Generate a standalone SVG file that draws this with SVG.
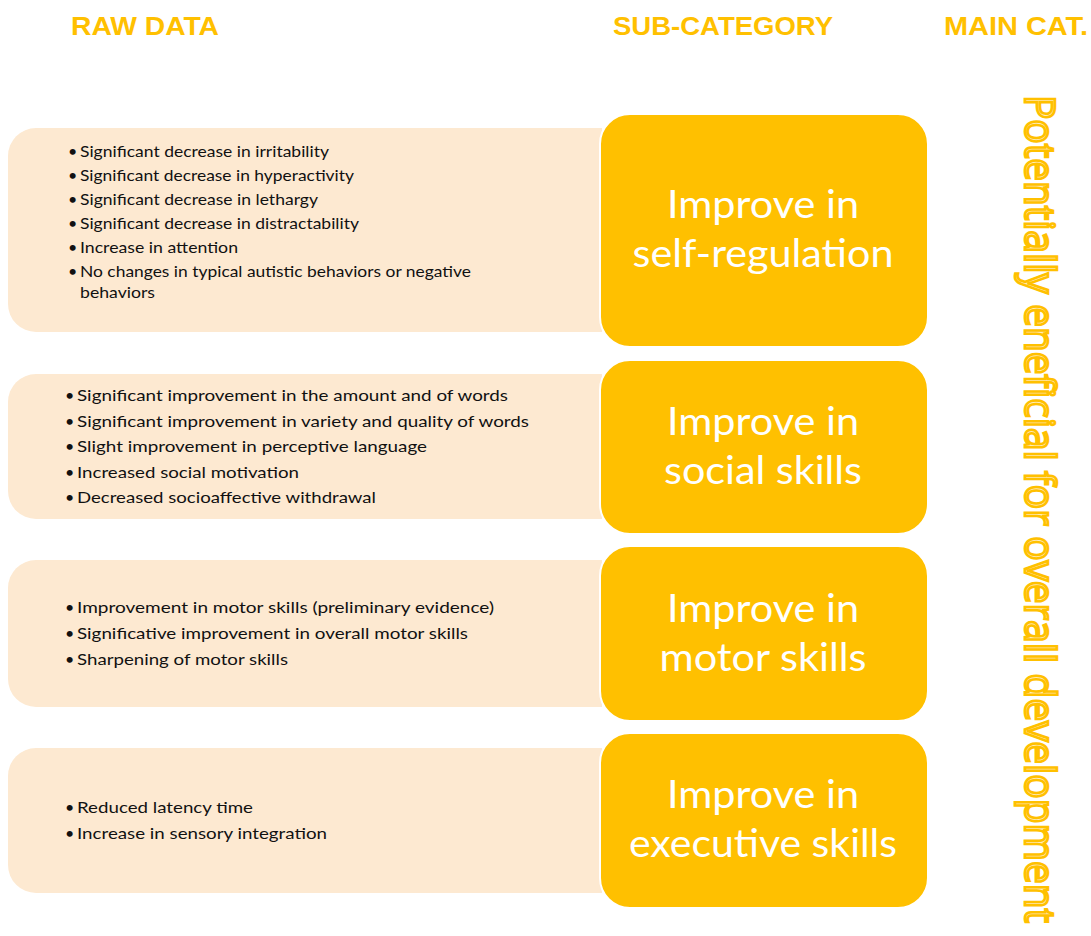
<svg xmlns="http://www.w3.org/2000/svg" width="1091" height="936" viewBox="0 0 1091 936">
<style>
.hdr{font-family:"Liberation Sans",Arial,sans-serif;font-weight:bold;font-size:26px;fill:#FFC000}
.raw{fill:#FDE9D1}
.sub{fill:#FFC000;stroke:#FFFFFF;stroke-width:2}
.bt{font-family:Lato,"Liberation Sans",sans-serif;font-size:16px;fill:#111111}
.st{font-family:Lato,"Open Sans",sans-serif;font-size:39px;fill:#FFFFFF;text-anchor:middle}
.main{font-family:"Open Sans","Noto Sans",sans-serif;font-size:42px;fill:#FFEDB8;stroke:#FFC000;stroke-width:2.6}
</style>
<rect width="1091" height="936" fill="#FFFFFF"/>
<g id="headers">
<text class="hdr" x="71" y="35" textLength="148" lengthAdjust="spacingAndGlyphs">RAW DATA</text>
<text class="hdr" x="613" y="35" textLength="220" lengthAdjust="spacingAndGlyphs">SUB-CATEGORY</text>
<text class="hdr" x="944" y="35" textLength="144" lengthAdjust="spacingAndGlyphs">MAIN CAT.</text>
</g>
<g id="connectors"></g>
<g id="raw1">
<path class="raw" d="M602,128 V332 H36 A28,28 0 0 1 8,304 V156 A28,28 0 0 1 36,128 Z"/>
<text class="bt" x="68" y="157">•</text><text class="bt" x="80" y="157" textLength="249" lengthAdjust="spacingAndGlyphs">Significant decrease in irritability</text>
<text class="bt" x="68" y="181">•</text><text class="bt" x="80" y="181" textLength="274" lengthAdjust="spacingAndGlyphs">Significant decrease in hyperactivity</text>
<text class="bt" x="68" y="205">•</text><text class="bt" x="80" y="205" textLength="238" lengthAdjust="spacingAndGlyphs">Significant decrease in lethargy</text>
<text class="bt" x="68" y="229">•</text><text class="bt" x="80" y="229" textLength="279" lengthAdjust="spacingAndGlyphs">Significant decrease in distractability</text>
<text class="bt" x="68" y="253">•</text><text class="bt" x="80" y="253" textLength="158" lengthAdjust="spacingAndGlyphs">Increase in attention</text>
<text class="bt" x="68" y="277">•</text><text class="bt" x="80" y="277" textLength="391" lengthAdjust="spacingAndGlyphs">No changes in typical autistic behaviors or negative</text>
<text class="bt" x="80" y="298" textLength="75" lengthAdjust="spacingAndGlyphs">behaviors</text>
</g>
<g id="raw2">
<path class="raw" d="M602,374 V519 H36 A28,28 0 0 1 8,491 V402 A28,28 0 0 1 36,374 Z"/>
<text class="bt" x="65" y="401">•</text><text class="bt" x="77" y="401" textLength="431" lengthAdjust="spacingAndGlyphs">Significant improvement in the amount and of words</text>
<text class="bt" x="65" y="427">•</text><text class="bt" x="77" y="427" textLength="452" lengthAdjust="spacingAndGlyphs">Significant improvement in variety and quality of words</text>
<text class="bt" x="65" y="452">•</text><text class="bt" x="77" y="452" textLength="350" lengthAdjust="spacingAndGlyphs">Slight improvement in perceptive language</text>
<text class="bt" x="65" y="478">•</text><text class="bt" x="77" y="478" textLength="222" lengthAdjust="spacingAndGlyphs">Increased social motivation</text>
<text class="bt" x="65" y="503">•</text><text class="bt" x="77" y="503" textLength="299" lengthAdjust="spacingAndGlyphs">Decreased socioaffective withdrawal</text>
</g>
<g id="raw3">
<path class="raw" d="M602,560 V707 H36 A28,28 0 0 1 8,679 V588 A28,28 0 0 1 36,560 Z"/>
<text class="bt" x="65" y="613">•</text><text class="bt" x="77" y="613" textLength="417" lengthAdjust="spacingAndGlyphs">Improvement in motor skills (preliminary evidence)</text>
<text class="bt" x="65" y="639">•</text><text class="bt" x="77" y="639" textLength="391" lengthAdjust="spacingAndGlyphs">Significative improvement in overall motor skills</text>
<text class="bt" x="65" y="665">•</text><text class="bt" x="77" y="665" textLength="211" lengthAdjust="spacingAndGlyphs">Sharpening of motor skills</text>
</g>
<g id="raw4">
<path class="raw" d="M602,748 V893 H36 A28,28 0 0 1 8,865 V776 A28,28 0 0 1 36,748 Z"/>
<text class="bt" x="65" y="813">•</text><text class="bt" x="77" y="813" textLength="176" lengthAdjust="spacingAndGlyphs">Reduced latency time</text>
<text class="bt" x="65" y="839">•</text><text class="bt" x="77" y="839" textLength="250" lengthAdjust="spacingAndGlyphs">Increase in sensory integration</text>
</g>
<g id="sub1">
<rect class="sub" x="600" y="114" width="328" height="233" rx="30" ry="30"/>
<text class="st" x="763" y="218" textLength="192" lengthAdjust="spacingAndGlyphs">Improve in</text>
<text class="st" x="763" y="267" textLength="261" lengthAdjust="spacingAndGlyphs">self-regulation</text>
</g>
<g id="sub2">
<rect class="sub" x="600" y="360" width="328" height="174" rx="30" ry="30"/>
<text class="st" x="763" y="435" textLength="192" lengthAdjust="spacingAndGlyphs">Improve in</text>
<text class="st" x="763" y="484" textLength="198" lengthAdjust="spacingAndGlyphs">social skills</text>
</g>
<g id="sub3">
<rect class="sub" x="600" y="546" width="328" height="175" rx="30" ry="30"/>
<text class="st" x="763" y="622" textLength="192" lengthAdjust="spacingAndGlyphs">Improve in</text>
<text class="st" x="763" y="671" textLength="207" lengthAdjust="spacingAndGlyphs">motor skills</text>
</g>
<g id="sub4">
<rect class="sub" x="600" y="733" width="328" height="175" rx="30" ry="30"/>
<text class="st" x="763" y="808" textLength="192" lengthAdjust="spacingAndGlyphs">Improve in</text>
<text class="st" x="763" y="857" textLength="268" lengthAdjust="spacingAndGlyphs">executive skills</text>
</g>
<g id="main">
<text class="main" transform="translate(1025,95) rotate(90)" x="0" y="0" textLength="828" lengthAdjust="spacingAndGlyphs">Potentially eneficial for overall development</text>
</g>
</svg>
